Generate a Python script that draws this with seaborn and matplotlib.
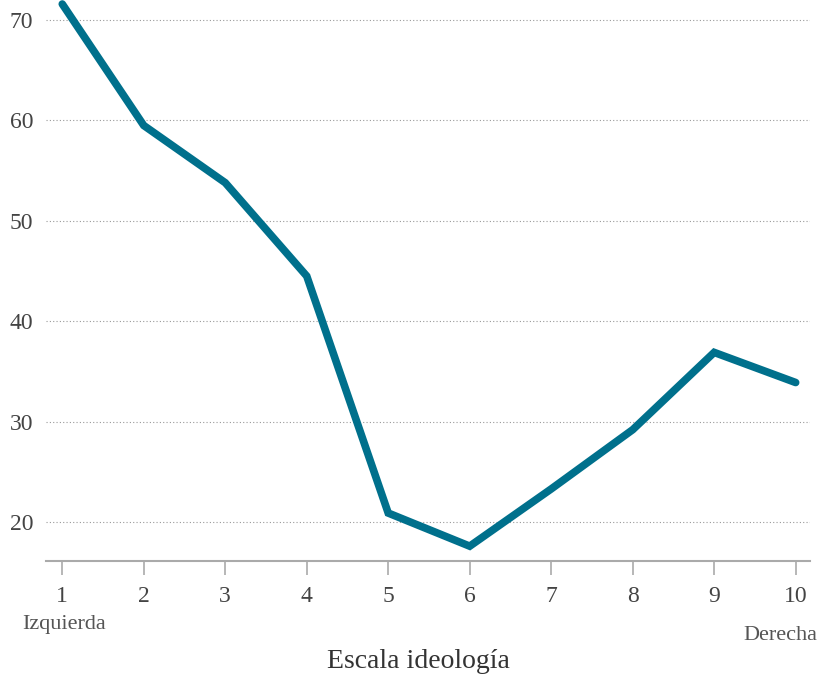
import pandas as pd
import matplotlib
matplotlib.use("Agg")
import matplotlib.pyplot as plt
import seaborn as sns

# Data
escala = [1, 2, 3, 4, 5, 6, 7, 8, 9, 10]
valores = [71.6, 59.5, 53.8, 44.5, 20.9, 17.6, 23.3, 29.2, 36.9, 33.9]
y_ticks = [20, 30, 40, 50, 60, 70]

df = pd.DataFrame({"escala": escala, "valor": valores})

sns.set_style("white")
plt.rcParams['font.family'] = ['Liberation Serif', 'DejaVu Serif']

fig = plt.figure(figsize=(8.21, 6.77), dpi=100)
ax = fig.add_axes([0.056, 0.171, 0.931, 0.829])

sns.lineplot(data=df, x="escala", y="valor", ax=ax, color="#00708c",
             linewidth=5.5, solid_joinstyle="miter", solid_capstyle="round")

ax.set_xlim(0.8, 10.18)
ax.set_ylim(16.1, 72)
ax.set_xticks(escala)
ax.set_yticks(y_ticks)

# dotted horizontal grid
ax.yaxis.grid(True, linestyle=(0, (1, 2)), color="#999999", linewidth=0.8)
ax.xaxis.grid(False)
ax.set_axisbelow(True)

for s in ["top", "right", "left"]:
    ax.spines[s].set_visible(False)
ax.spines["bottom"].set_color("#aaaaaa")
ax.spines["bottom"].set_linewidth(1.5)

ax.tick_params(axis="x", bottom=True, direction="out", length=10, width=1.2,
               color="#aaaaaa", labelsize=17, labelcolor="#444444", pad=8)
ax.tick_params(axis="y", left=False, length=0, labelsize=17, labelcolor="#444444", pad=9)

ax.set_xlabel("")
ax.set_ylabel("")

fig.text(22 / 821, 1 - 624 / 677, "Izquierda", fontsize=16, color="#555555",
         ha="left", va="center")
fig.text(817 / 821, 1 - 635 / 677, "Derecha", fontsize=16, color="#555555",
         ha="right", va="center")
fig.text(418 / 821, 1 - 662 / 677, "Escala ideología", fontsize=20, color="#333333",
         ha="center", va="center")

fig.savefig("out.png", dpi=100)
